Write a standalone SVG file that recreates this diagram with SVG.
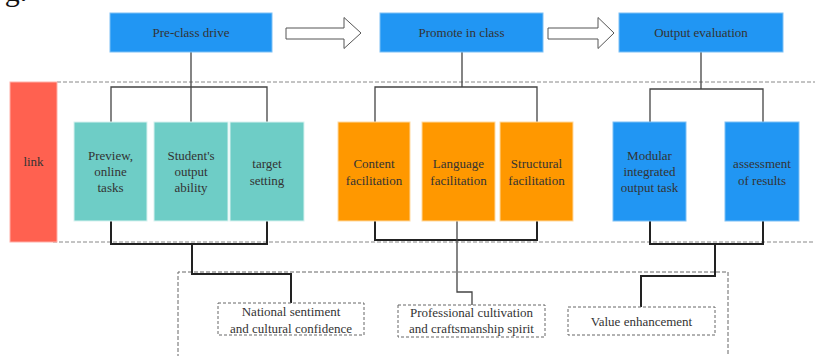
<svg xmlns="http://www.w3.org/2000/svg" width="815" height="356" viewBox="0 0 815 356">
<style>
text{font-family:'Liberation Serif','DejaVu Serif',serif;font-size:13px;fill:#333;text-anchor:middle}
.blue{fill:#2196F3;stroke:#7cc0f5;stroke-width:1}
.teal{fill:#6ECDC6;stroke:#d8f2f0;stroke-width:1}
.orange{fill:#FF9800;stroke:#ffd9a0;stroke-width:1}
.red{fill:#FF6150;stroke:#ffb0a8;stroke-width:1}
.note{fill:#fff;stroke:#666;stroke-width:1;stroke-dasharray:3,2}
.dash{fill:none;stroke:#888;stroke-width:1;stroke-dasharray:4,2}
.thin{fill:none;stroke:#444;stroke-width:1.3}
.thick{fill:none;stroke:#222;stroke-width:2}
.hollow{fill:#fff;stroke:#555;stroke-width:1}
</style>
<rect width="815" height="356" fill="#fff"/>
<text x="16" y="1" font-family="Liberation Serif" style="font-size:30px;fill:#111">g.</text>

<g id="guides">
<line class="dash" x1="57" y1="82" x2="815" y2="82"/>
<line class="dash" x1="53" y1="242" x2="815" y2="242"/>
<path class="dash" d="M178,358 V272 H728 V358" style="stroke:#666"/>
</g>

<g id="connectors">
<polygon class="hollow" points="286,28 344,28 344,17.5 361,33 344,48.5 344,39 286,39"/>
<polygon class="hollow" points="548,28 598,28 598,17.5 614,33 598,48.5 598,39 548,39"/>
<path class="thin" d="M191,52 V122 M111,122 V87 H267 V122"/>
<path class="thin" d="M462,52 V87 M375,122 V87 H537 V122"/>
<path class="thin" d="M701,52 V89 M650,122 V89 H763 V122"/>
<path class="thick" d="M111,221 V244 H267 V221 M192,244 V274 H291 V303"/>
<path class="thick" d="M375,221 V240 H537 V221"/>
<path class="thin" d="M457,221 V292 H472 V305"/>
<path class="thick" d="M650,221 V244 H763 V221 M715,244 V276 H641 V307"/>
</g>

<g font-family="Liberation Serif, DejaVu Serif, serif">
<g id="pre-class-drive"><rect class="blue" x="110" y="13" width="162" height="39"/><text x="191" y="37">Pre-class drive</text></g>
<g id="promote-in-class"><rect class="blue" x="380" y="13" width="163" height="39"/><text x="461.5" y="37">Promote in class</text></g>
<g id="output-evaluation"><rect class="blue" x="619" y="13" width="164" height="39"/><text x="701" y="37">Output evaluation</text></g>

<g id="link"><rect class="red" x="10" y="82" width="47" height="160"/><text x="33.5" y="166">link</text></g>

<g id="preview"><rect class="teal" x="74" y="122" width="73" height="99"/><text x="110.5" y="160">Preview,</text><text x="110.5" y="176">online</text><text x="110.5" y="192">tasks</text></g>
<g id="student-output"><rect class="teal" x="154" y="122" width="74" height="99"/><text x="191" y="160">Student's</text><text x="191" y="176">output</text><text x="191" y="192">ability</text></g>
<g id="target-setting"><rect class="teal" x="230" y="122" width="74" height="99"/><text x="267" y="168">target</text><text x="267" y="185">setting</text></g>

<g id="content-facilitation"><rect class="orange" x="338" y="122" width="72" height="99"/><text x="374" y="168">Content</text><text x="374" y="185">facilitation</text></g>
<g id="language-facilitation"><rect class="orange" x="422" y="122" width="73" height="99"/><text x="458.5" y="168">Language</text><text x="458.5" y="185">facilitation</text></g>
<g id="structural-facilitation"><rect class="orange" x="500" y="122" width="73" height="99"/><text x="536.5" y="168">Structural</text><text x="536.5" y="185">facilitation</text></g>

<g id="modular-task"><rect class="blue" x="613" y="122" width="73" height="99"/><text x="649.5" y="160">Modular</text><text x="649.5" y="176">integrated</text><text x="649.5" y="192">output task</text></g>
<g id="assessment"><rect class="blue" x="725" y="122" width="74" height="99"/><text x="762" y="168">assessment</text><text x="762" y="185">of results</text></g>

<g id="national-sentiment"><rect class="note" x="218" y="303" width="146" height="32"/><text x="291" y="315.5">National sentiment</text><text x="291" y="332.5">and cultural confidence</text></g>
<g id="professional-cultivation"><rect class="note" x="398" y="305" width="147" height="32"/><text x="471.5" y="316.5">Professional cultivation</text><text x="471.5" y="332.5">and craftsmanship spirit</text></g>
<g id="value-enhancement"><rect class="note" x="568" y="307" width="147" height="28"/><text x="641.5" y="325.5">Value enhancement</text></g>
</g>
</svg>
